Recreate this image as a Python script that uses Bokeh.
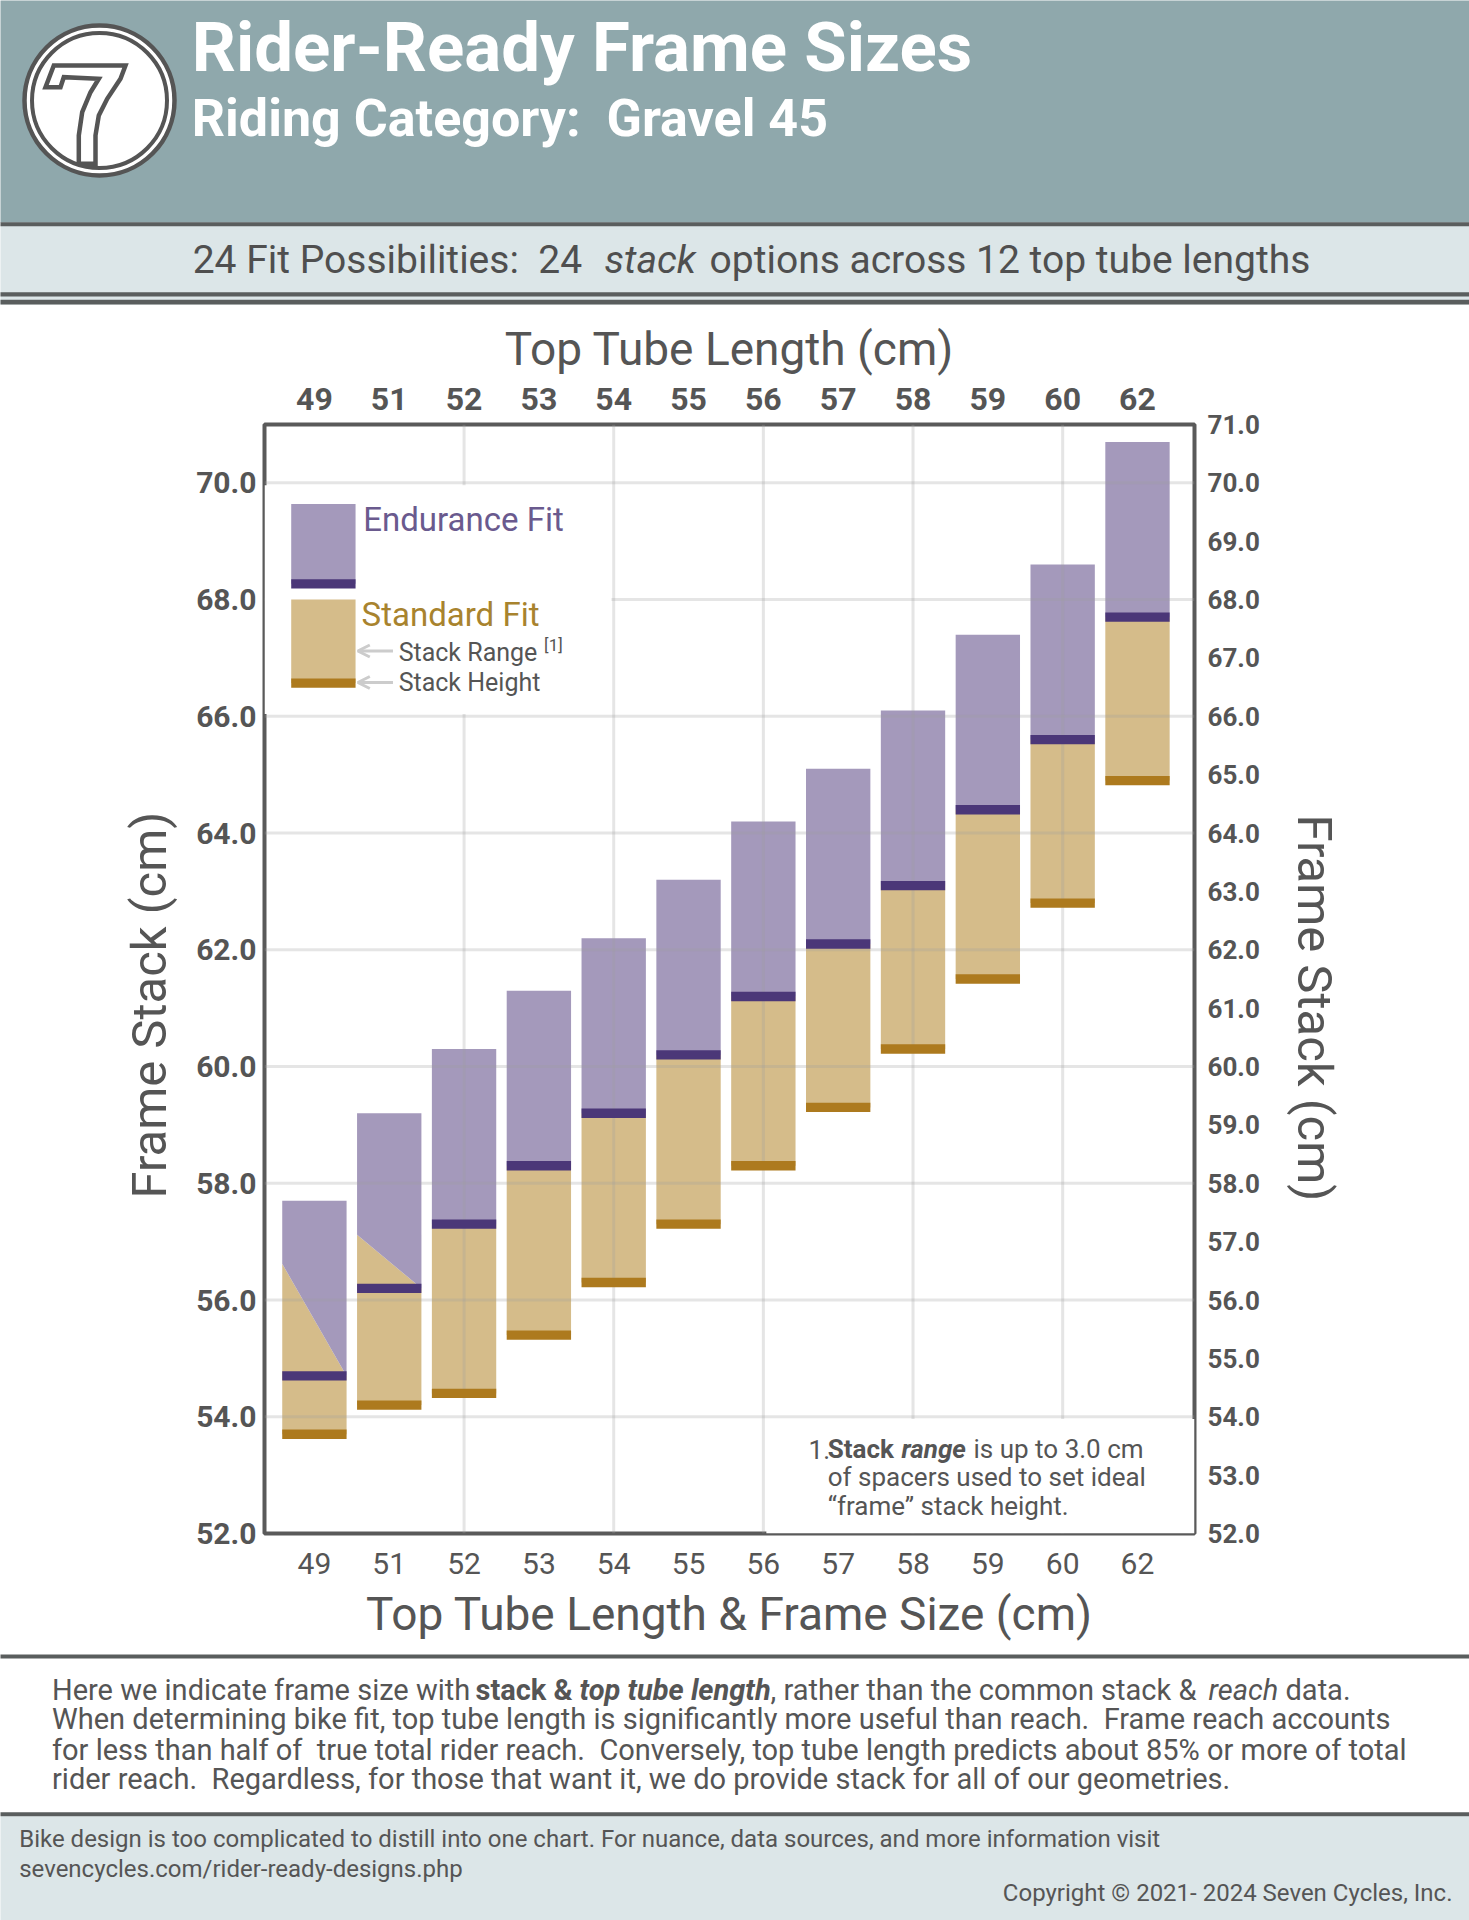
from bokeh.plotting import figure
from bokeh.models import Range1d, LinearAxis, FixedTicker, PrintfTickFormatter, Arrow, OpenHead, Title
from bokeh.layouts import column
from bokeh.embed import file_html
from bokeh.resources import INLINE
from bokeh.core.properties import value

# ---------------- data ----------------
frame_sizes = ["49", "51", "52", "53", "54", "55", "56", "57", "58", "59", "60", "62"]
standard_stack = [53.7, 54.2, 54.4, 55.4, 56.3, 57.3, 58.3, 59.3, 60.3, 61.5, 62.8, 64.9]
endurance_stack = [54.7, 56.2, 57.3, 58.3, 59.2, 60.2, 61.2, 62.1, 63.1, 64.4, 65.6, 67.7]
stack_range = 3.0
stack_ticks_left = [52, 54, 56, 58, 60, 62, 64, 66, 68, 70]
stack_ticks_right = [52, 53, 54, 55, 56, 57, 58, 59, 60, 61, 62, 63, 64, 65, 66, 67, 68, 69, 70, 71]
grid_sizes = ["52", "54", "56", "58", "60"]
grid_stacks = [54, 56, 58, 60, 62, 64, 66, 68, 70]

# ---------------- style ----------------
FONT = "Roboto"
W = 1469
GRAY = "#555555"
HEADER_BG = "#8fa8ac"
BAND_BG = "#dce6e8"
RULE = "#5a5e5e"
PURPLE = "#a499bb"
PURPLE_DARK = "#4b3778"
TAN = "#d5bc8a"
GOLD = "#ad7a1e"
NB = "\u00a0"


def no_align(f):
    try:
        f.frame_align = False
    except Exception:
        pass


def canvas(h):
    f = figure(width=W, height=h, x_range=Range1d(0, W), y_range=Range1d(h, 0),
               toolbar_location=None, output_backend="svg", min_border=0,
               x_axis_type=None, y_axis_type=None)
    f.outline_line_color = None
    f.background_fill_color = "white"
    f.border_fill_color = "white"
    no_align(f)
    return f


def txt(f, x, y, s, size, color=GRAY, style="normal", align="left"):
    f.text(x=[x], y=[y], text=[s], text_font=value(FONT), text_font_size=f"{size}px",
           text_font_style=style, text_color=color, text_align=align, text_baseline="middle")


# ---------------- header (page y 0..305) ----------------
HH = 305
hd = canvas(HH)
hd.quad(left=[-5], right=[W + 5], top=[-5], bottom=[222], fill_color=HEADER_BG, line_color=None)
hd.quad(left=[-5], right=[W + 5], top=[224], bottom=[304], fill_color=BAND_BG, line_color=None)
for t, b in [(221.7, 225.7), (291.7, 296.0), (299.3, 304.0)]:
    hd.quad(left=[-5], right=[W + 5], top=[t], bottom=[b], fill_color=RULE, line_color=None)

# logo
cx, cy = 99.0, 100.0
hd.circle(x=[cx], y=[cy], radius=75, fill_color="white", line_color="#555555", line_width=4.5)
hd.circle(x=[cx], y=[cy], radius=67.5, fill_color=None, line_color="#555555", line_width=4)
seven = [(53.3, 65), (125, 65), (120, 78.3), (106.7, 98.3), (98.3, 115), (95, 135), (95, 163.3),
         (78.3, 163.3), (78.3, 135), (81.7, 111.7), (90, 91.7), (98.3, 78.3), (63.3, 76.7),
         (60, 86.7), (45, 86.7)]
hd.patch([q[0] for q in seven], [q[1] for q in seven], fill_color="white",
         line_color="#555555", line_width=4.5, line_join="miter")

txt(hd, 191.3, 47, "Rider-Ready Frame Sizes", 69, color="white", style="bold")
txt(hd, 191.3, 118, "Riding Category:" + NB + " Gravel 45", 52, color="white", style="bold")
txt(hd, 192.2, 259, "24 Fit Possibilities:" + NB + " 24", 39, color="#4f4f4f")
txt(hd, 604.0, 259, "stack", 39, color="#4f4f4f", style="italic")
txt(hd, 709.0, 259, "options across 12 top tube lengths", 39, color="#4f4f4f")

# ---------------- chart (page y 305..1650) ----------------
XMIN, XMAX = -0.667, 11.762
YMIN, YMAX = 52.0, 71.0
p = figure(width=W, height=1345, x_range=Range1d(XMIN, XMAX), y_range=Range1d(YMIN, YMAX),
           toolbar_location=None, output_backend="svg",
           min_border_left=264, min_border_right=275, min_border_top=119, min_border_bottom=117)
no_align(p)
p.xgrid.visible = False
p.ygrid.visible = False
p.outline_line_color = "#5a5a5a"
p.outline_line_width = 4
p.border_fill_color = "white"

pos = list(range(len(frame_sizes)))
hw = 0.43
band = 0.08

tan_xs, tan_ys, pur_xs, pur_ys = [], [], [], []
for i, s, e in zip(pos, standard_stack, endurance_stack):
    l, r = i - hw, i + hw
    s_top = s - band + stack_range
    shared = (s_top - e) > 0.5
    if shared:
        tan_xs.append([l, r, r, l]); tan_ys.append([s, s, e, s_top])
        pur_xs.append([l, r, r, l]); pur_ys.append([s_top, e, e + stack_range, e + stack_range])
    else:
        top = min(s_top, e)
        tan_xs.append([l, r, r, l]); tan_ys.append([s, s, top, top])
        pur_xs.append([l, r, r, l]); pur_ys.append([e, e, e + stack_range, e + stack_range])

p.patches(tan_xs, tan_ys, fill_color=TAN, line_color=None)
p.patches(pur_xs, pur_ys, fill_color=PURPLE, line_color=None)

# grid drawn over the fills (translucent)
gx = [frame_sizes.index(g) for g in grid_sizes]
p.segment(x0=gx, x1=gx, y0=[YMIN] * len(gx), y1=[YMAX] * len(gx),
          line_color="#a0a0a0", line_alpha=0.27, line_width=3)
p.segment(x0=[XMIN] * len(grid_stacks), x1=[XMAX] * len(grid_stacks), y0=grid_stacks, y1=grid_stacks,
          line_color="#a0a0a0", line_alpha=0.27, line_width=3)

# stack height bands
p.quad(left=[i - hw for i in pos], right=[i + hw for i in pos],
       bottom=[s - band for s in standard_stack], top=[s + band for s in standard_stack],
       fill_color=GOLD, line_color=None)
p.quad(left=[i - hw for i in pos], right=[i + hw for i in pos],
       bottom=[e - band for e in endurance_stack], top=[e + band for e in endurance_stack],
       fill_color=PURPLE_DARK, line_color=None)

# white panels behind legend and footnote
p.quad(left=[XMIN, 6.04], right=[3.97, XMAX], bottom=[66.04, YMIN], top=[69.96, 53.96],
       fill_color="white", line_color=None)

# legend swatches
lc = 0.12
p.quad(left=[lc - hw], right=[lc + hw], bottom=[68.27], top=[69.64], fill_color=PURPLE, line_color=None)
p.quad(left=[lc - hw], right=[lc + hw], bottom=[68.27 - band], top=[68.27 + band], fill_color=PURPLE_DARK, line_color=None)
p.quad(left=[lc - hw], right=[lc + hw], bottom=[66.57], top=[68.0], fill_color=TAN, line_color=None)
p.quad(left=[lc - hw], right=[lc + hw], bottom=[66.57 - band], top=[66.57 + band], fill_color=GOLD, line_color=None)

txt(p, 0.652, 69.38, "Endurance Fit", 33, color="#6a5a8e")
txt(p, 0.631, 67.75, "Standard Fit", 33, color="#a8832e")
txt(p, 1.126, 67.10, "Stack Range", 25)
txt(p, 3.07, 67.22, "[1]", 17)
txt(p, 1.126, 66.58, "Stack Height", 25)
for ya in [67.12, 66.58]:
    p.add_layout(Arrow(end=OpenHead(size=12, line_color="#cccccc", line_width=3),
                       x_start=1.05, y_start=ya, x_end=0.58, y_end=ya,
                       line_color="#cccccc", line_width=3))

# footnote
FS = 26
txt(p, 6.604, 53.44, "1.", FS)
txt(p, 6.861, 53.44, "Stack", FS, style="bold")
txt(p, 7.846, 53.44, "range", FS, style="bold italic")
txt(p, 8.809, 53.44, "is up to 3.0 cm", FS)
txt(p, 6.861, 52.96, "of spacers used to set ideal", FS)
txt(p, 6.861, 52.47, "\u201cframe\u201d stack height.", FS)

# axes
overrides = {i: s for i, s in zip(pos, frame_sizes)}


def style_axis(ax, size, bold, label_size=46, standoff=8, label_standoff=10):
    ax.major_tick_line_color = None
    ax.minor_tick_line_color = None
    ax.axis_line_color = None
    ax.major_tick_out = 0
    ax.major_tick_in = 0
    ax.major_label_text_font = FONT
    ax.major_label_text_font_size = f"{size}px"
    ax.major_label_text_font_style = "bold" if bold else "normal"
    ax.major_label_text_color = GRAY
    ax.major_label_standoff = standoff
    ax.axis_label_text_font = FONT
    ax.axis_label_text_font_size = f"{label_size}px"
    ax.axis_label_text_font_style = "normal"
    ax.axis_label_text_color = GRAY
    ax.axis_label_standoff = label_standoff


xb = p.xaxis[0]
xb.ticker = FixedTicker(ticks=pos)
xb.major_label_overrides = overrides
xb.axis_label = "Top Tube Length & Frame Size (cm)"
style_axis(xb, 30, False, standoff=19, label_standoff=10)

xt = LinearAxis(ticker=FixedTicker(ticks=pos), major_label_overrides=overrides,
                axis_label="Top Tube Length (cm)")
style_axis(xt, 32, True, standoff=15, label_standoff=9)
p.add_layout(xt, "above")

yl = p.yaxis[0]
yl.ticker = FixedTicker(ticks=stack_ticks_left)
yl.formatter = PrintfTickFormatter(format="%.1f")
style_axis(yl, 30, True, standoff=8)

yr = LinearAxis(ticker=FixedTicker(ticks=stack_ticks_right), formatter=PrintfTickFormatter(format="%.1f"))
style_axis(yr, 26, True, standoff=13)
p.add_layout(yr, "right")

# side titles, set slightly below the frame centre as in the reference
for side, off, sto in [("left", 335, 32), ("right", 390, 46)]:
    t = Title(text="Frame Stack (cm)", align="left", offset=off, standoff=sto,
              text_font=FONT, text_font_size="49px", text_font_style="normal", text_color=GRAY)
    p.add_layout(t, side)

# ---------------- footer (page y 1650..1920) ----------------
FH = 270
ft = canvas(FH)
ft.quad(left=[-5], right=[W + 5], top=[4], bottom=[8], fill_color=RULE, line_color=None)
ft.quad(left=[-5], right=[W + 5], top=[165.7], bottom=[FH + 5], fill_color=BAND_BG, line_color=None)
ft.quad(left=[-5], right=[W + 5], top=[161.7], bottom=[165.7], fill_color=RULE, line_color=None)

PS = 29
txt(ft, 51.5, 39.4, "Here we indicate frame size with", PS)
txt(ft, 475.0, 39.4, "stack &", PS, style="bold")
txt(ft, 579.0, 39.4, "top tube length", PS, style="bold italic")
txt(ft, 770.0, 39.4, ", rather than the common stack &", PS)
txt(ft, 1208.0, 39.4, "reach", PS, style="italic")
txt(ft, 1285.0, 39.4, "data.", PS)
txt(ft, 51.5, 68.8, "When determining bike fit, top tube length is significantly more useful than reach." + NB + " Frame reach accounts", PS)
txt(ft, 51.5, 99.4, "for less than half of" + NB + " true total rider reach." + NB + " Conversely, top tube length predicts about 85% or more of total", PS)
txt(ft, 51.5, 128.8, "rider reach." + NB + " Regardless, for those that want it, we do provide stack for all of our geometries.", PS)

txt(ft, 18.7, 188.8, "Bike design is too complicated to distill into one chart. For nuance, data sources, and more information visit", 24)
txt(ft, 18.7, 218.2, "sevencycles.com/rider-ready-designs.php", 24)
txt(ft, 1452, 242.6, "Copyright \u00a9 2021- 2024 Seven Cycles, Inc.", 24, align="right")

layout = column(hd, p, ft, spacing=0)
open("out.html", "w").write(file_html(layout, INLINE))
